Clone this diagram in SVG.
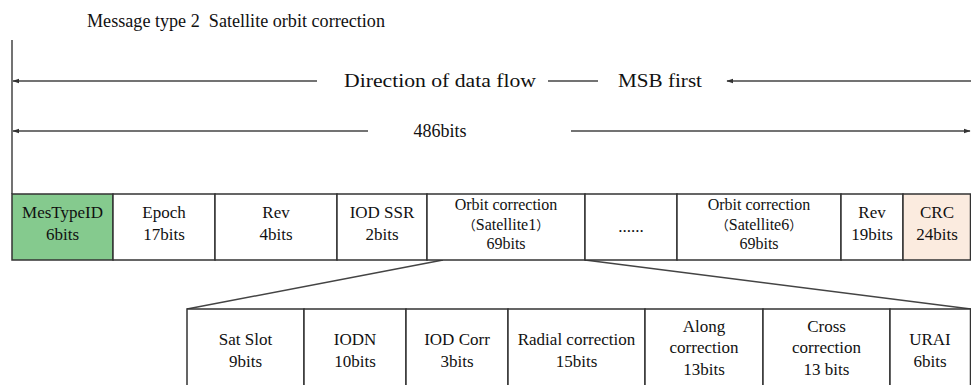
<svg xmlns="http://www.w3.org/2000/svg" width="971" height="385" viewBox="0 0 971 385">
<defs>
<marker id="ah" viewBox="0 0 10 10" refX="9" refY="5" markerWidth="7" markerHeight="7" orient="auto-start-reverse" markerUnits="userSpaceOnUse">
<path d="M0,1.5 L10,5 L0,8.5 Z" fill="#333"/>
</marker>
<style>
text{font-family:"Liberation Serif","Times New Roman","DejaVu Serif",serif;fill:#111;}
.cjk{font-family:"Noto Sans CJK SC",sans-serif;font-size:13px;}
.t{font-size:17px;text-anchor:middle;}
.t3{font-size:16px;}
.h{font-size:18px;}
.cell{fill:#fff;stroke:#333;stroke-width:1.5;}
.ln{stroke:#444;stroke-width:1.5;fill:none;}
</style>
</defs>
<rect width="971" height="385" fill="#fff"/>
<text class="h" x="87" y="27" xml:space="preserve" font-family="Liberation Serif, serif" textLength="298" lengthAdjust="spacingAndGlyphs">Message type 2  Satellite orbit correction</text>
<g id="connectors">
<line class="ln" x1="12" y1="40" x2="12" y2="194"/>
<line class="ln" x1="317" y1="81" x2="13" y2="81" marker-end="url(#ah)"/>
<line class="ln" x1="548" y1="81" x2="598" y2="81" stroke-width="1"/>
<line class="ln" x1="971" y1="81" x2="727" y2="81" marker-end="url(#ah)"/>
<line class="ln" x1="368" y1="131" x2="13" y2="131" marker-end="url(#ah)"/>
<line class="ln" x1="571" y1="131" x2="970" y2="131" marker-end="url(#ah)"/>
<line class="ln" x1="443" y1="260" x2="187" y2="309"/>
<line class="ln" x1="585" y1="260" x2="971" y2="309"/>
</g>
<text class="h" x="344" y="87" font-family="Liberation Serif, serif" textLength="192" lengthAdjust="spacingAndGlyphs">Direction of data flow</text>
<text class="h" x="618" y="87" font-family="Liberation Serif, serif" textLength="84" lengthAdjust="spacingAndGlyphs">MSB first</text>
<text class="h" x="440" y="137" text-anchor="middle" font-family="Liberation Serif, serif">486bits</text>
<g id="n-mestype"><rect class="cell" x="12" y="194" width="101" height="66" style="fill:#85ca8e"/><text class="t" x="62.5" y="218">MesTypeID</text><text class="t" x="62.5" y="240">6bits</text></g>
<g id="n-epoch"><rect class="cell" x="113" y="194" width="102" height="66"/><text class="t" x="164" y="218">Epoch</text><text class="t" x="164" y="240">17bits</text></g>
<g id="n-rev1"><rect class="cell" x="215" y="194" width="122" height="66"/><text class="t" x="276" y="218">Rev</text><text class="t" x="276" y="240">4bits</text></g>
<g id="n-iodssr"><rect class="cell" x="337" y="194" width="90" height="66"/><text class="t" x="382" y="218">IOD SSR</text><text class="t" x="382" y="240">2bits</text></g>
<g id="n-orb1"><rect class="cell" x="427" y="194" width="158" height="66"/><text class="t t3" x="506" y="210">Orbit correction</text><text class="t t3" x="506" y="229.5"><tspan class="cjk">（</tspan>Satellite1<tspan class="cjk">）</tspan></text><text class="t t3" x="506" y="249">69bits</text></g>
<g id="n-dots"><rect class="cell" x="585" y="194" width="92" height="66"/><text class="t" x="631" y="232">......</text></g>
<g id="n-orb6"><rect class="cell" x="677" y="194" width="164" height="66"/><text class="t t3" x="759" y="210">Orbit correction</text><text class="t t3" x="759" y="229.5"><tspan class="cjk">（</tspan>Satellite6<tspan class="cjk">）</tspan></text><text class="t t3" x="759" y="249">69bits</text></g>
<g id="n-rev2"><rect class="cell" x="841" y="194" width="62" height="66"/><text class="t" x="872" y="218">Rev</text><text class="t" x="872" y="240">19bits</text></g>
<g id="n-crc"><rect class="cell" x="903" y="194" width="67.5" height="66" style="fill:#fbebdf"/><text class="t" x="937" y="218">CRC</text><text class="t" x="937" y="240">24bits</text></g>
<g id="n-satslot"><rect class="cell" x="187" y="309" width="117" height="90"/><text class="t" x="245.5" y="345">Sat Slot</text><text class="t" x="245.5" y="367">9bits</text></g>
<g id="n-iodn"><rect class="cell" x="304" y="309" width="102" height="90"/><text class="t" x="355" y="345">IODN</text><text class="t" x="355" y="367">10bits</text></g>
<g id="n-iodcorr"><rect class="cell" x="406" y="309" width="102" height="90"/><text class="t" x="457" y="345">IOD Corr</text><text class="t" x="457" y="367">3bits</text></g>
<g id="n-radial"><rect class="cell" x="508" y="309" width="137" height="90"/><text class="t" x="576.5" y="345">Radial correction</text><text class="t" x="576.5" y="367">15bits</text></g>
<g id="n-along"><rect class="cell" x="645" y="309" width="118" height="90"/><text class="t" x="704" y="332">Along</text><text class="t" x="704" y="353">correction</text><text class="t" x="704" y="375">13bits</text></g>
<g id="n-cross"><rect class="cell" x="763" y="309" width="127" height="90"/><text class="t" x="826.5" y="332">Cross</text><text class="t" x="826.5" y="353">correction</text><text class="t" x="826.5" y="375">13 bits</text></g>
<g id="n-urai"><rect class="cell" x="890" y="309" width="80.5" height="90"/><text class="t" x="930" y="345">URAI</text><text class="t" x="930" y="367">6bits</text></g>
</svg>
